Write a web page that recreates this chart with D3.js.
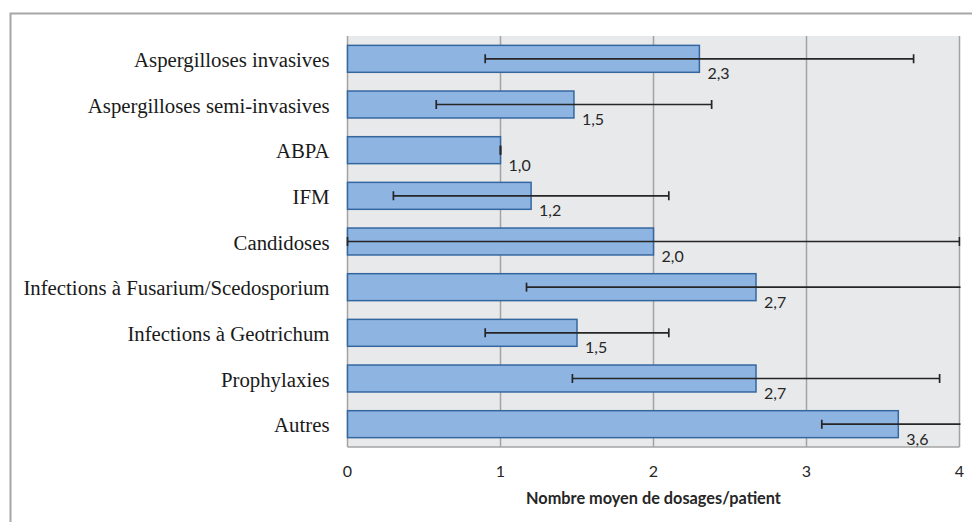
<!DOCTYPE html>
<html>
<head>
<meta charset="utf-8">
<script src="https://cdn.jsdelivr.net/npm/d3@7"></script>
<style>
  html, body { margin: 0; padding: 0; background: #ffffff; }
  svg { display: block; }
</style>
</head>
<body>
<svg id="chart" width="972" height="522"></svg>
<script>
// ---- data ----
const categories = [
  "Aspergilloses invasives",
  "Aspergilloses semi-invasives",
  "ABPA",
  "IFM",
  "Candidoses",
  "Infections à Fusarium/Scedosporium",
  "Infections à Geotrichum",
  "Prophylaxies",
  "Autres"
];
const meanValues = [2.3, 1.48, 1.0, 1.2, 2.0, 2.67, 1.5, 2.67, 3.6];
const valueLabels = ["2,3", "1,5", "1,0", "1,2", "2,0", "2,7", "1,5", "2,7", "3,6"];
const errorValues = [1.4, 0.9, 0.0, 0.9, 2.0, 1.5, 0.6, 1.2, 0.5];
const xTicks = [0, 1, 2, 3, 4];
const xTickLabels = ["0", "1", "2", "3", "4"];
const xAxisTitle = "Nombre moyen de dosages/patient";

// ---- layout ----
const svg = d3.select("#chart");
const plot = { left: 347.5, right: 959.5, top: 36, bottom: 447 };

// outer frame
svg.append("path")
  .attr("d", "M972,13.5 H10.5 V522")
  .attr("fill", "none")
  .attr("stroke", "#a6a6a6")
  .attr("stroke-width", 2);

const x = d3.scaleLinear().domain([0, 4]).range([plot.left, plot.right]);
const y = d3.scaleBand().domain(categories).range([plot.top, plot.bottom])
  .paddingInner(0.41).paddingOuter(0.205);

// plot background
svg.append("rect")
  .attr("x", plot.left).attr("y", plot.top)
  .attr("width", plot.right - plot.left).attr("height", plot.bottom - plot.top)
  .attr("fill", "#e8e9eb");

// gridlines
svg.append("g").selectAll("line").data(xTicks).join("line")
  .attr("x1", d => x(d)).attr("x2", d => x(d))
  .attr("y1", plot.top).attr("y2", plot.bottom)
  .attr("stroke", "#a3a3a3").attr("stroke-width", 1.5);

// bottom line
svg.append("line")
  .attr("x1", plot.left).attr("x2", plot.right)
  .attr("y1", plot.bottom).attr("y2", plot.bottom)
  .attr("stroke", "#a3a3a3").attr("stroke-width", 1.5);

// bars
svg.append("g").selectAll("rect").data(categories).join("rect")
  .attr("x", x(0))
  .attr("y", d => y(d))
  .attr("width", (d, i) => x(meanValues[i]) - x(0))
  .attr("height", y.bandwidth())
  .attr("fill", "#8eb4e2")
  .attr("stroke", "#35679f")
  .attr("stroke-width", 1.5);

// error bars (clipped to plot)
svg.append("defs").append("clipPath").attr("id", "clip")
  .append("rect")
  .attr("x", plot.left - 2).attr("y", plot.top)
  .attr("width", plot.right - plot.left + 3).attr("height", plot.bottom - plot.top);

const eg = svg.append("g").attr("clip-path", "url(#clip)");
categories.forEach((c, i) => {
  const cy = y(c) + y.bandwidth() / 2;
  const lo = meanValues[i] - errorValues[i];
  const hi = meanValues[i] + errorValues[i];
  const g = eg.append("g").attr("stroke", "#262626").attr("stroke-width", 1.7);
  g.append("line").attr("x1", x(lo)).attr("x2", x(hi)).attr("y1", cy).attr("y2", cy);
  [lo, hi].forEach(v => {
    if (v >= 0 && v <= 4.001) {
      g.append("line").attr("x1", x(v)).attr("x2", x(v))
        .attr("y1", cy - 4.5).attr("y2", cy + 4.5);
    }
  });
});

// value labels
svg.append("g").selectAll("text").data(categories).join("text")
  .attr("x", (d, i) => x(meanValues[i]) + 8)
  .attr("y", d => y(d) + y.bandwidth() + 0.5)
  .attr("dominant-baseline", "central")
  .attr("font-family", "Lato, 'Open Sans', sans-serif")
  .attr("font-size", 16)
  .attr("fill", "#262626")
  .text((d, i) => valueLabels[i]);

// category labels
svg.append("g").selectAll("text").data(categories).join("text")
  .attr("x", plot.left - 18)
  .attr("y", d => y(d) + y.bandwidth() / 2 + 0.5)
  .attr("text-anchor", "end")
  .attr("dominant-baseline", "central")
  .attr("font-family", "'Liberation Serif', 'Times New Roman', serif")
  .attr("font-size", 20.8)
  .attr("fill", "#1a1a1a")
  .text(d => d);

// x tick labels
svg.append("g").selectAll("text").data(xTicks).join("text")
  .attr("x", d => x(d))
  .attr("y", 470)
  .attr("text-anchor", "middle")
  .attr("dominant-baseline", "central")
  .attr("font-family", "Lato, 'Open Sans', sans-serif")
  .attr("font-size", 16)
  .attr("fill", "#262626")
  .text((d, i) => xTickLabels[i]);

// axis title
svg.append("text")
  .attr("x", (plot.left + plot.right) / 2)
  .attr("y", 497)
  .attr("text-anchor", "middle")
  .attr("dominant-baseline", "central")
  .attr("font-family", "Lato, 'Open Sans', sans-serif")
  .attr("font-weight", "bold")
  .attr("font-size", 16.3)
  .attr("fill", "#262626")
  .text(xAxisTitle);
</script>
</body>
</html>
